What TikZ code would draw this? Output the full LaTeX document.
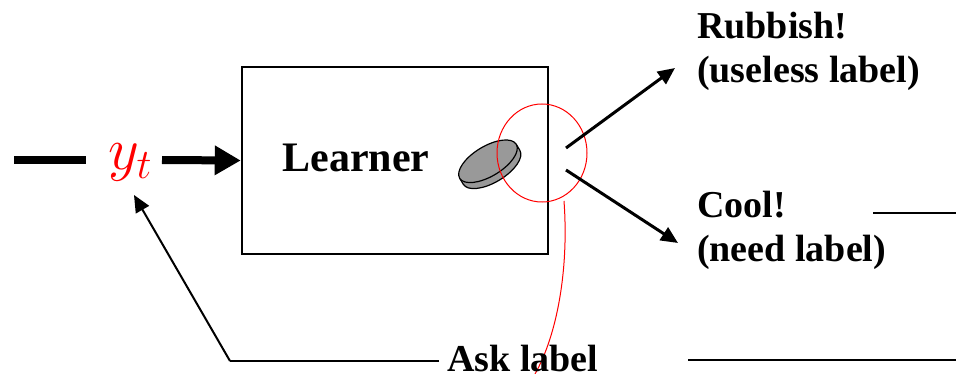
\documentclass[tikz,border=0pt]{standalone}
\usepackage{fix-cm}
\usepackage{fontspec}
\setmainfont{Liberation Serif}
\usetikzlibrary{arrows.meta}

\tikzset{
  lbl/.style={inner sep=0pt, align=left, anchor=north west, font=\fontsize{38}{44}\selectfont\bfseries},
  fat/.style={line width=8pt},
  pick/.style={line width=3pt, -{Triangle[length=17pt,width=15pt]}},
  thin/.style={line width=2pt},
  mark circ/.style={red, line width=1pt}
}

\begin{document}
\begin{tikzpicture}[x=1pt,y=1pt]
				\useasboundingbox (0,0) rectangle (956,-374);
				% stream input
				\node [inner sep=0pt, text=red, font=\fontsize{60}{60}\selectfont] (yt) at (130,-162) {$y_t$};
				\coordinate (in) at (14,-160);
				\draw [fat] (in) -- (86,-160);
				% learner box
				\node [draw, line width=2.5pt, minimum width=306pt, minimum height=187pt, inner sep=0pt] (box) at (395,-160.5) {};
				\node [inner sep=0pt, anchor=base, font=\fontsize{42}{48}\selectfont\bfseries] (learner) at (356,-172) {Learner};
				\draw [fat, -{Triangle[length=26pt,width=28pt]}] (162,-160) -- (box.west);
				% the coin
				\begin{scope}[shift={(489,-163)}, rotate=31]
					\fill [gray!80] (-33,2) -- (-33,-5) arc (180:360:33 and 15) -- (33,2) -- cycle;
					\draw [line width=1.2pt] (-33,2) -- (-33,-5) arc (180:360:33 and 15) -- (33,2);
					\filldraw [fill=gray!80, line width=1.2pt] (0,2) ellipse (33 and 15);
				\end{scope}
				% red marker
				\draw [mark circ] (542,-153) ellipse (45 and 49);
				\draw [mark circ] (564,-201) .. controls (569,-270) and (557,-335) .. (535,-374);
				% outputs
				\node [lbl] (rubbish) at (697,-12) {Rubbish!\\(useless label)};
				\node [lbl] (cool) at (697,-191) {Cool!\\(need label)};
				\coordinate (up) at (566,-148);
				\coordinate (down) at (566,-170);
				\draw [pick] (up) -- (675,-68);
				\draw [pick] (down) -- (678,-243);
				\draw [thin] (873,-213) -- (956,-213);
				\draw [thin] (688,-360) -- (956,-360);
				% query
				\node [inner sep=0pt, anchor=base west, font=\fontsize{38}{44}\selectfont\bfseries] (ask) at (447,-371) {Ask label};
				\coordinate (corner) at (230,-361);
				\draw [thin] (ask.west |- corner) ++(-8,0) -- (corner);
				\draw [thin, -{Triangle[length=17pt,width=15pt]}] (corner) -- (134,-195);
			\end{tikzpicture}
\end{document}
